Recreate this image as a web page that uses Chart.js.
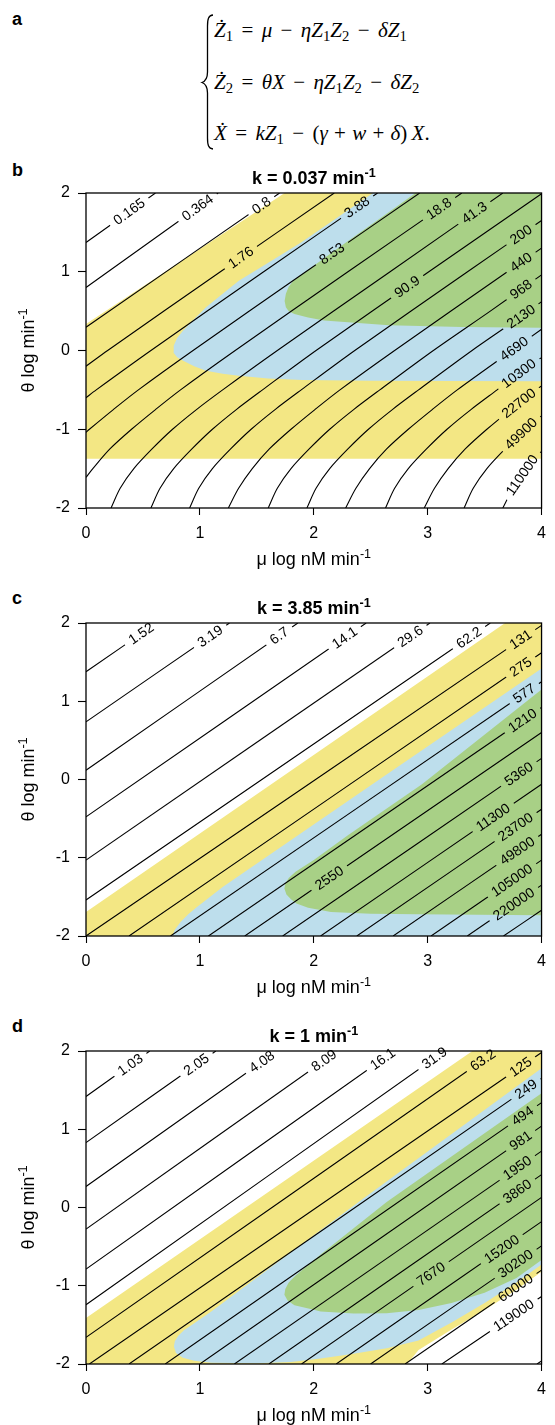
<!DOCTYPE html>
<html>
<head>
<meta charset="utf-8">
<script src="https://cdn.jsdelivr.net/npm/chart.js@4.4.0/dist/chart.umd.min.js"></script>
<style>
html, body { margin: 0; padding: 0; background: #fff; }
#page { position: relative; width: 555px; height: 1425px; overflow: hidden; }
.tag { position: absolute; left: 12px; font: bold 18px/18px 'Liberation Sans', Arial, sans-serif; }
canvas { position: absolute; left: 0; }
.eq { position: absolute; left: 214px; font: 21px/21px 'Liberation Serif', 'Times New Roman', serif; white-space: nowrap; }
.eq sub { font-size: 0.7em; vertical-align: -0.3em; line-height: 0; font-style: normal; }
.op { margin: 0 0.4em; }
.op2 { margin: 0 0.3em; }
</style>
</head>
<body>
<div id="page">
  <div class="tag" style="top:10px">a</div>
  <svg style="position:absolute;left:0;top:0" width="555" height="160">
    <path d="M 213 15 C 208.5 15.5, 207.5 19, 207.5 26 L 207.5 72 C 207.5 78, 206 81, 202 82.5 C 206 84, 207.5 87, 207.5 93 L 207.5 138 C 207.5 145, 208.5 148.5, 213 149"
          fill="none" stroke="#000" stroke-width="1.3"/>
  </svg>
  <div class="eq" style="top:20px"><i>Ż</i><sub>1</sub><span class="op">=</span><i>μ</i><span class="op">−</span><i>ηZ</i><sub>1</sub><i>Z</i><sub>2</sub><span class="op">−</span><i>δZ</i><sub>1</sub></div>
  <div class="eq" style="top:72px"><i>Ż</i><sub>2</sub><span class="op">=</span><i>θX</i><span class="op">−</span><i>ηZ</i><sub>1</sub><i>Z</i><sub>2</sub><span class="op">−</span><i>δZ</i><sub>2</sub></div>
  <div class="eq" style="top:123px"><i>X&#775;</i><span class="op">=</span><i>kZ</i><sub>1</sub><span class="op">−</span>(<i>γ</i><span class="op2">+</span><i>w</i><span class="op2">+</span><i>δ</i>)&thinsp;<i>X</i>.</div>

  <div class="tag" style="top:161px">b</div>
  <canvas id="chartB" width="555" height="425" style="top:150px"></canvas>
  <div class="tag" style="top:589px">c</div>
  <canvas id="chartC" width="555" height="423" style="top:580px"></canvas>
  <div class="tag" style="top:1017px">d</div>
  <canvas id="chartD" width="555" height="423" style="top:1008px"></canvas>
</div>

<script>
// ==========================================
// DATOS - panel b (k = 0.037)
// points are [mu, theta] in log units
// ==========================================
const bLevels = ['0.165', '0.364', '0.8', '1.76', '3.88', '8.53', '18.8', '41.3', '90.9',
                 '200', '440', '968', '2130', '4690', '10300', '22700', '49900', '110000'];
const bLines = [
  [[0, 1.371], [0.61, 2]],
  [[0, 0.80], [1.16, 2]],
  [[0, 0.295], [1.70, 2]],
  [[0, -0.20], [0.19, 0], [1.18, 1], [2.18, 2]],
  [[0, -0.60], [0.09, -0.5], [0.57, 0], [1.56, 1], [2.56, 2]],
  [[0, -1.04], [0.03, -1], [0.24, -0.75], [0.46, -0.5], [0.94, 0], [1.93, 1], [2.93, 2]],
  [[0, -1.61], [0.06, -1.5], [0.21, -1.25], [0.40, -1], [0.61, -0.75], [0.83, -0.5], [1.31, 0], [2.30, 1], [3.30, 2]],
  [[0.22, -2], [0.30, -1.75], [0.42, -1.5], [0.58, -1.25], [0.76, -1], [0.97, -0.75], [1.20, -0.5], [1.68, 0], [2.67, 1], [3.66, 2]],
  [[0.57, -2], [0.65, -1.75], [0.77, -1.5], [0.93, -1.25], [1.11, -1], [1.32, -0.75], [1.55, -0.5], [2.02, 0], [3.01, 1], [4, 1.99]],
  [[0.91, -2], [0.99, -1.75], [1.11, -1.5], [1.27, -1.25], [1.45, -1], [1.66, -0.75], [1.89, -0.5], [2.36, 0], [3.35, 1], [4, 1.65]],
  [[1.25, -2], [1.34, -1.75], [1.46, -1.5], [1.61, -1.25], [1.80, -1], [2.01, -0.75], [2.23, -0.5], [2.71, 0], [3.70, 1], [4, 1.30]],
  [[1.60, -2], [1.68, -1.75], [1.80, -1.5], [1.96, -1.25], [2.14, -1], [2.35, -0.75], [2.58, -0.5], [3.05, 0], [3.55, 0.5], [4, 0.96]],
  [[1.94, -2], [2.02, -1.75], [2.14, -1.5], [2.30, -1.25], [2.48, -1], [2.69, -0.75], [2.92, -0.5], [3.39, 0], [3.89, 0.5], [4, 0.62]],
  [[2.28, -2], [2.37, -1.75], [2.49, -1.5], [2.64, -1.25], [2.83, -1], [3.04, -0.75], [3.26, -0.5], [3.74, 0], [4, 0.27]],
  [[2.63, -2], [2.71, -1.75], [2.83, -1.5], [2.99, -1.25], [3.17, -1], [3.38, -0.75], [3.61, -0.5], [3.84, -0.25], [4, -0.09]],
  [[2.97, -2], [3.06, -1.75], [3.18, -1.5], [3.33, -1.25], [3.52, -1], [3.73, -0.75], [3.95, -0.5], [4, -0.45]],
  [[3.32, -2], [3.40, -1.75], [3.52, -1.5], [3.68, -1.25], [3.86, -1], [4, -0.83]],
  [[3.66, -2], [3.75, -1.75], [3.87, -1.5], [3.92, -1.4], [4, -1.28]]
];
const bLabelMu = [0.38, 0.98, 1.54, 1.36, 2.38, 2.16, 3.10, 3.41, 2.82, 3.82, 3.82, 3.82, 3.82, 3.76, 3.80, 3.80, 3.82, 3.83];
const bYellow = [[0, 0.337], [1.744, 2], [4, 2], [4, -1.376], [0, -1.376]];
const bBlue = [[0.767, -0.025], [0.77, 0.06], [0.80, 0.16], [0.853, 0.253], [0.95, 0.40], [1.054, 0.548], [1.2, 0.72],
               [1.342, 0.886], [1.629, 1.14], [1.888, 1.37], [2.52, 2], [4, 2], [4, -0.39], [2.5, -0.385], [1.9, -0.375],
               [1.6, -0.355], [1.342, -0.32], [1.2, -0.295], [1.054, -0.258], [0.95, -0.2], [0.853, -0.13], [0.80, -0.085]];
const bGreen = [[1.744, 0.63], [1.755, 0.72], [1.78, 0.81], [1.82, 0.885], [1.90, 0.97], [2.233, 1.32], [2.664, 1.763],
                [2.894, 2], [4, 2], [4, 0.29], [3.3, 0.30], [2.66, 0.32], [2.09, 0.38], [1.95, 0.42], [1.83, 0.465],
                [1.78, 0.50], [1.755, 0.55]];

// ==========================================
// DATOS - panel c (k = 3.85)
// ==========================================
const cLevels = ['1.52', '3.19', '6.7', '14.1', '29.6', '62.2', '131', '275', '577', '1210', '2550',
                 '5360', '11300', '23700', '49800', '105000', '220000'];
const cLines = [
  [[0, 1.377], [0.62, 2]],
  [[0, 0.737], [1.26, 2]],
  [[0, 0.119], [1.86, 2]],
  [[0, -0.478], [2.46, 2]],
  [[0, -1.03], [3.02, 2]],
  [[0, -1.54], [3.55, 2]],
  [[0, -2], [4, 1.97]],
  [[0.378, -2], [4, 1.62]],
  [[0.742, -2], [4, 1.25]],
  [[1.075, -2], [4, 0.92]],
  [[1.394, -2], [4, 0.60]],
  [[1.727, -2], [4, 0.27]],
  [[2.06, -2], [4, -0.06]],
  [[2.378, -2], [4, -0.38]],
  [[2.697, -2], [4, -0.70]],
  [[3.03, -2], [4, -1.03]],
  [[3.348, -2], [4, -1.35]],
  [[3.666, -2], [4, -1.67]]
];
const cLabelMu = [0.484, 1.09, 1.697, 2.272, 2.848, 3.363, 3.817, 3.817, 3.848, 3.833, 2.136, 3.80, 3.575, 3.772, 3.787, 3.741, 3.757];
const cYellow = [[0, -1.693], [3.68, 2], [4, 2], [4, -2], [0, -2]];
const cBlue = [[0.757, -2], [0.78, -1.92], [0.83, -1.82], [0.90, -1.72], [0.969, -1.635], [1.2, -1.375],
               [2.575, 0], [4, 1.42], [4, -2]];
const cGreen = [[1.742, -1.394], [1.75, -1.33], [1.78, -1.26], [1.84, -1.18], [2.0, -1.03], [2.303, -0.71],
                [2.95, -0.06], [4, 1.15], [4, -1.735], [2.909, -1.723], [2.5, -1.715], [2.151, -1.693],
                [1.95, -1.64], [1.848, -1.586], [1.80, -1.53], [1.76, -1.47]];

// ==========================================
// DATOS - panel d (k = 1)
// ==========================================
const dLevels = ['1.03', '2.05', '4.08', '8.09', '16.1', '31.9', '63.2', '125', '249', '494', '981',
                 '1950', '3860', '7670', '15200', '30200', '60000', '119000'];
const dLines = [
  [[0, 1.418], [0.56, 2]],
  [[0, 0.83], [1.14, 2]],
  [[0, 0.268], [1.68, 2]],
  [[0, -0.276], [2.21, 2]],
  [[0, -0.787], [2.706, 2]],
  [[0, -1.243], [3.149, 2]],
  [[0, -1.66], [3.6, 2]],
  [[0.03, -2], [4, 1.98]],
  [[0.378, -2], [4, 1.65]],
  [[0.696, -2], [4, 1.34]],
  [[1.0, -2], [4, 1.04]],
  [[1.303, -2], [4, 0.72]],
  [[1.606, -2], [4, 0.42]],
  [[1.893, -2], [4, 0.13]],
  [[2.197, -2], [4, -0.18]],
  [[2.499, -2], [4, -0.49]],
  [[2.802, -2], [4, -0.80]],
  [[3.125, -2], [4, -1.137]],
  [[3.96, -2], [4, -1.96]]
];
const dLabelMu = [0.39, 0.97, 1.545, 2.09, 2.606, 3.06, 3.485, 3.817, 3.863, 3.833, 3.817, 3.787, 3.787, 3.03, 3.651, 3.772, 3.772, 3.756];
const dYellow = [[0, -1.413], [3.393, 2], [4, 2], [4, -0.82], [3.78, -1.05], [3.50, -1.31], [3.21, -1.56],
                 [2.92, -1.82], [2.82, -2], [0, -2]];
const dBlue = [[0.772, -1.775], [0.78, -1.71], [0.81, -1.64], [0.86, -1.57], [0.95, -1.48], [1.1, -1.33], [2.42, 0.1],
               [4, 1.78], [4, -0.73], [3.78, -0.96], [3.50, -1.22], [3.21, -1.47], [2.92, -1.70], [2.64, -1.80],
               [2.35, -1.87], [2.06, -1.93], [1.8, -1.975], [1.5, -1.99], [1.1, -1.985], [0.95, -1.96], [0.85, -1.92], [0.79, -1.86]];
const dGreen = [[1.742, -1.115], [1.75, -1.04], [1.78, -0.96], [1.84, -0.87], [1.93, -0.76], [2.06, -0.60], [2.64, 0.07],
                [4, 1.46], [4, -0.67], [3.78, -0.90], [3.50, -1.09], [3.21, -1.22], [2.92, -1.31], [2.64, -1.35],
                [2.35, -1.355], [2.06, -1.328], [2.0, -1.306], [1.83, -1.25], [1.77, -1.19]];

const xTicks = [0, 1, 2, 3, 4];
const yTicks = [-2, -1, 0, 1, 2];

// ==========================================
// ESTILO
// ==========================================
const FONT = "'Liberation Sans', Arial, Helvetica, sans-serif";
const YELLOW = '#f3e784';
const BLUE = '#bddeec';
const GREEN = '#a8d086';
const LABEL_SIZE = 14;

function toPts(arr) {
    return arr.map(p => ({ x: p[0], y: p[1] }));
}

function labelSpot(chart, ds) {
    const xs = chart.scales.x, ys = chart.scales.y, d = ds.data;
    let i = 0;
    while (i < d.length - 2 && d[i + 1].x < ds.labelMu) i++;
    const a = d[i], b = d[i + 1];
    const t = (ds.labelMu - a.x) / (b.x - a.x);
    const x1 = xs.getPixelForValue(a.x), y1 = ys.getPixelForValue(a.y);
    const x2 = xs.getPixelForValue(b.x), y2 = ys.getPixelForValue(b.y);
    return { x: x1 + (x2 - x1) * t, y: y1 + (y2 - y1) * t, ang: Math.atan2(y2 - y1, x2 - x1) };
}

// cut a gap in each contour line where its label sits, then write the label
const contourLabels = {
    id: 'contourLabels',
    beforeDatasetDraw(chart, args) {
        const ds = chart.data.datasets[args.index];
        if (!ds.labelText) return;
        const ctx = chart.ctx;
        const s = labelSpot(chart, ds);
        ctx.font = LABEL_SIZE + 'px ' + FONT;
        const hw = ctx.measureText(ds.labelText).width / 2 + 6, hh = 7;
        const c = Math.cos(s.ang), n = Math.sin(s.ang);
        ctx.save();
        ctx.beginPath();
        ctx.rect(0, 0, chart.width, chart.height);
        [[-hw, -hh], [hw, -hh], [hw, hh], [-hw, hh]].forEach((p, k) => {
            const X = s.x + p[0] * c - p[1] * n, Y = s.y + p[0] * n + p[1] * c;
            if (k) ctx.lineTo(X, Y); else ctx.moveTo(X, Y);
        });
        ctx.closePath();
        ctx.clip('evenodd');
    },
    afterDatasetDraw(chart, args) {
        if (chart.data.datasets[args.index].labelText) chart.ctx.restore();
    },
    afterDatasetsDraw(chart) {
        const ctx = chart.ctx;
        chart.data.datasets.forEach(ds => {
            if (!ds.labelText) return;
            const s = labelSpot(chart, ds);
            ctx.save();
            ctx.translate(s.x, s.y);
            ctx.rotate(s.ang);
            ctx.font = LABEL_SIZE + 'px ' + FONT;
            ctx.fillStyle = '#000';
            ctx.textAlign = 'center';
            ctx.textBaseline = 'middle';
            ctx.fillText(ds.labelText, 0, 0.5);
            ctx.restore();
        });
    }
};

function drawRich(ctx, parts, x, y, size, bold, vertical) {
    const f = sz => (bold ? 'bold ' : '') + sz + 'px ' + FONT;
    let total = 0;
    parts.forEach(p => { ctx.font = f(p[1] ? size * 0.7 : size); total += ctx.measureText(p[0]).width; });
    ctx.save();
    ctx.translate(x, y);
    if (vertical) ctx.rotate(-Math.PI / 2);
    ctx.fillStyle = '#000';
    ctx.textAlign = 'left';
    ctx.textBaseline = 'alphabetic';
    let cx = -total / 2;
    parts.forEach(p => {
        ctx.font = f(p[1] ? size * 0.7 : size);
        ctx.fillText(p[0], cx, p[1] ? -size * 0.4 : 0);
        cx += ctx.measureText(p[0]).width;
    });
    ctx.restore();
}

// box, title and axis titles
const panelText = {
    id: 'panelText',
    afterDraw(chart, args, opts) {
        const ctx = chart.ctx, a = chart.chartArea;
        ctx.save();
        ctx.strokeStyle = '#000';
        ctx.lineWidth = 1.3;
        ctx.strokeRect(a.left, a.top, a.right - a.left, a.bottom - a.top);
        ctx.restore();
        const mid = (a.left + a.right) / 2;
        drawRich(ctx, opts.title, mid, a.top - 9, 18, true, false);
        drawRich(ctx, [['\u03bc log nM min', false], ['-1', true]], mid, a.bottom + 57, 18, false, false);
        drawRich(ctx, [['\u03b8 log min', false], ['-1', true]], a.left - 52, (a.top + a.bottom) / 2, 18, false, true);
    }
};

function axis(ticksList, fitKey, fitVal) {
    return {
        type: 'linear',
        min: ticksList[0],
        max: ticksList[ticksList.length - 1],
        afterBuildTicks: s => { s.ticks = ticksList.map(v => ({ value: v })); },
        afterFit: s => { s[fitKey] = fitVal; },
        ticks: { color: '#000', font: { family: FONT, size: 16 }, padding: fitKey === 'height' ? 9 : 8, maxRotation: 0, autoSkip: false },
        grid: { drawOnChartArea: false, drawTicks: true, tickLength: fitKey === 'height' ? 7 : 8, tickColor: '#000', tickWidth: 1.1 },
        border: { display: false }
    };
}

function makePanel(id, regions, lines, levels, labelMu, title) {
    const datasets = [];
    regions.forEach((r, i) => {
        datasets.push({
            data: toPts(r[0]), backgroundColor: r[1], fill: 'shape', borderWidth: 0,
            borderColor: 'rgba(0,0,0,0)', pointRadius: 0, tension: 0, order: 30 - i
        });
    });
    lines.forEach((l, i) => {
        datasets.push({
            data: toPts(l), fill: false, borderColor: '#000', borderWidth: 1.1, pointRadius: 0,
            tension: 0.3, order: 0, labelText: levels[i], labelMu: labelMu[i]
        });
    });
    return new Chart(document.getElementById(id), {
        type: 'line',
        data: { datasets },
        options: {
            responsive: false,
            animation: false,
            events: [],
            layout: { padding: { left: 26, right: 5, top: 43, bottom: 27 } },
            plugins: { legend: { display: false }, tooltip: { enabled: false }, panelText: { title } },
            scales: { x: axis(xTicks, 'height', 40), y: axis(yTicks, 'width', 60) }
        },
        plugins: [contourLabels, panelText]
    });
}

makePanel('chartB', [[bYellow, YELLOW], [bBlue, BLUE], [bGreen, GREEN]], bLines, bLevels, bLabelMu,
          [['k = 0.037 min', false], ['-1', true]]);
makePanel('chartC', [[cYellow, YELLOW], [cBlue, BLUE], [cGreen, GREEN]], cLines, cLevels, cLabelMu,
          [['k = 3.85 min', false], ['-1', true]]);
makePanel('chartD', [[dYellow, YELLOW], [dBlue, BLUE], [dGreen, GREEN]], dLines, dLevels, dLabelMu,
          [['k = 1 min', false], ['-1', true]]);
</script>
</body>
</html>
